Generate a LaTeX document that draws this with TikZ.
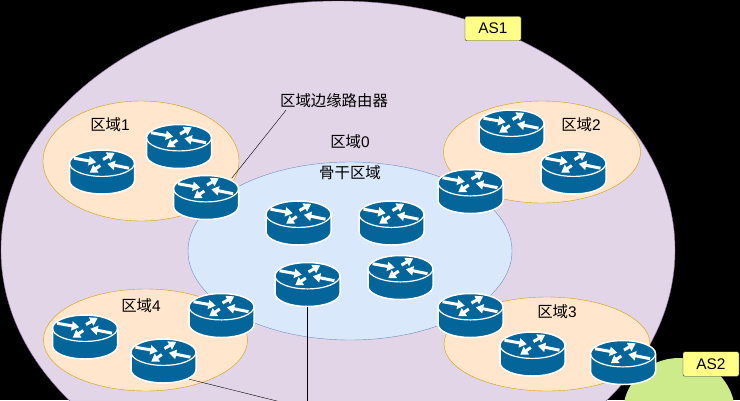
\documentclass[tikz,border=0pt]{standalone}
\usepackage{fontspec}
\setmainfont{Liberation Sans}
\newfontfamily\cjk{Noto Sans CJK SC}
\usetikzlibrary{arrows.meta}
\definecolor{routerblue}{HTML}{03659A}
\definecolor{asfill}{HTML}{E1D5E7}
\definecolor{asline}{HTML}{9673A6}
\definecolor{areafill}{HTML}{FFE6CC}
\definecolor{arealine}{HTML}{D79B00}
\definecolor{corefill}{HTML}{DAE8FC}
\definecolor{coreline}{HTML}{6C8EBF}
\definecolor{otherfill}{HTML}{CDEB8B}
\definecolor{tagfill}{HTML}{FFFF88}
\definecolor{tagline}{HTML}{36393D}
\tikzset{
	areazone/.style={draw=arealine,fill=areafill},
	asbox/.style={draw=tagline,fill=tagfill,rounded corners=2pt,minimum width=56pt,minimum height=24.5pt,inner sep=0pt,font=\fontsize{15.4}{17}\selectfont},
	tag/.style={inner sep=0pt,font=\fontsize{15.4}{17}\selectfont},
	routerbox/.style={minimum width=65pt,minimum height=44pt,inner sep=0pt},
	routerarrow/.style={white,line width=3pt,-{Stealth[length=7.5pt,width=9pt,inset=0pt]}},
	router/.pic={
		% 路由器外形
		\draw[white,line width=1.5pt,fill=routerblue] (-32.5,-8.8) -- (-32.5,8.8) arc[start angle=180,end angle=0,x radius=32.5,y radius=13.2] -- (32.5,-8.8) arc[start angle=0,end angle=-180,x radius=32.5,y radius=13.2] -- cycle;
		\draw[white,line width=1.2pt] (-32.5,-8.8) arc[start angle=180,end angle=0,x radius=32.5,y radius=13.2];
		% 四个箭头
		\foreach \xa/\ya/\xb/\yb in {-28/-13.8/-5.7/-9.8,1/-12.5/12.7/-19.2,27/-3.8/5.3/-8.2,-1.7/-6.5/-12.3/0.8}
			\draw[routerarrow] (\xa,\ya) -- (\xb,\yb);
		\node (-box) [routerbox] at (0,0) {};
	}
}
\newcommand{\areaname}[1]{{\cjk 区域}#1}
\begin{document}
\begin{tikzpicture}[x=1pt,y=-1pt]
	\useasboundingbox (0,0) rectangle (740,400);
	\fill[black] (0,0) rectangle (740,400);
	% 自治系统
	\fill[otherfill] (679,413) ellipse (56 and 55);
	\draw[draw=asline,fill=asfill] (338,250) ellipse (337 and 249);
	% 各区域
	\foreach \cx/\cy/\rx/\ry in {141/161/98/60,542/152/98.5/51,547/344/103/47,145.5/340/102/51}
		\draw[areazone] (\cx,\cy) ellipse ({\rx} and {\ry});
	\draw[draw=coreline,fill=corefill] (350,251) ellipse (162 and 89);
	% 路由器
	\pic (r1a) at (102,172) {router};
	\pic (r1b) at (179,146.5) {router};
	\pic (r1c) at (206,197.5) {router};
	\pic (r2a) at (511.5,132) {router};
	\pic (r2b) at (573.5,172) {router};
	\pic (r2c) at (470.5,191.5) {router};
	\pic (b1) at (298.5,223) {router};
	\pic (b2) at (391.5,223) {router};
	\pic (b3) at (307.5,284.5) {router};
	\pic (b4) at (400.5,277.5) {router};
	\pic (r3c) at (470.5,315.5) {router};
	\pic (r3a) at (532.5,354) {router};
	\pic (r3b) at (623,362.5) {router};
	\pic (r4c) at (221.5,315.5) {router};
	\pic (r4a) at (85,337) {router};
	\pic (r4b) at (163.5,361) {router};
	% 文字
	\node (as1) [asbox] at (493,28.5) {AS1};
	\node (as2) [asbox] at (711,364) {AS2};
	\node (t1) [tag] at (110,125) {\areaname{1}};
	\node (t2) [tag] at (581,125) {\areaname{2}};
	\node (t3) [tag] at (557,312) {\areaname{3}};
	\node (t4) [tag] at (141,306) {\areaname{4}};
	\node (t0) [tag] at (350,142) {\areaname{0}};
	\node (backbone) [tag] at (350,173) {\cjk 骨干区域};
	\node (edgelabel) [tag] at (334,101) {\cjk 区域边缘路由器};
	% 连线
	\coordinate (below) at (307.5,408.6);
	\draw ([xshift=6pt,yshift=-2pt]edgelabel.south west) -- ([xshift=-7pt,yshift=-3pt]r1c-box.north east);
	\draw (b3-box.south) -- (below);
	\draw ([xshift=-7pt,yshift=4pt]r4b-box.south east) -- (below);
\end{tikzpicture}
\end{document}
